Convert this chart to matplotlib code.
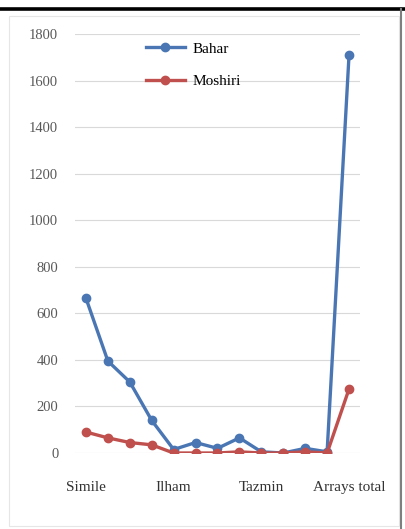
import matplotlib.pyplot as plt
import matplotlib.lines as mlines
from matplotlib.patches import Rectangle

# figures of speech counted in each poet's work
categories = ['Simile', '', '', '', 'Ilham', '', '', '', 'Tazmin', '', '', '', 'Arrays total']
bahar = [665, 395, 305, 140, 15, 45, 20, 65, 5, 0, 20, 5, 1710]
moshiri = [90, 65, 45, 35, 0, 0, 0, 5, 0, 0, 5, 0, 275]

plt.rcParams['font.family'] = ['Liberation Serif', 'DejaVu Serif']

fig = plt.figure(figsize=(4.06, 5.29), dpi=100)
ax = fig.add_axes([75 / 406, 76 / 529, 285 / 406, 419 / 529])

x = range(len(categories))
ax.plot(x, bahar, color='#4a76b4', lw=2.4, marker='o', ms=6, label='Bahar', zorder=3)
ax.plot(x, moshiri, color='#c0504d', lw=2.4, marker='o', ms=6, label='Moshiri', zorder=3)

ax.set_xlim(-0.5, len(categories) - 0.5)
ax.set_ylim(0, 1800)
ax.set_yticks(range(0, 1801, 200))
ax.set_xticks(list(x))
ax.set_xticklabels(categories)
ax.grid(axis='y', color='#d9d9d9', lw=0.8)
ax.set_axisbelow(True)
for s in ax.spines.values():
    s.set_visible(False)
ax.tick_params(axis='y', length=0, pad=12, labelsize=10.5, labelcolor='#595959')
ax.tick_params(axis='x', length=0, pad=20, labelsize=11, labelcolor='#333333')

ax.legend(loc='upper left', bbox_to_anchor=(138 / 406, 1 - 34.5 / 529),
          bbox_transform=fig.transFigure, frameon=False, fontsize=11,
          handlelength=2.6, labelspacing=1.2, borderpad=0, handletextpad=0.45)

# page frame: heavy rule on top, dark edge on the right, faint box inside
fig.add_artist(mlines.Line2D([0, 1], [1 - 8.5 / 529] * 2, color='black', lw=2.6))
fig.add_artist(mlines.Line2D([401 / 406] * 2, [0, 1 - 8.5 / 529], color='#7f7f7f', lw=1.5))
fig.add_artist(Rectangle((9.5 / 406, 3.5 / 529), 390 / 406, 510 / 529,
                         transform=fig.transFigure, fill=False, ec='#e6e6e6', lw=0.8))

fig.savefig('out.png', dpi=100)
